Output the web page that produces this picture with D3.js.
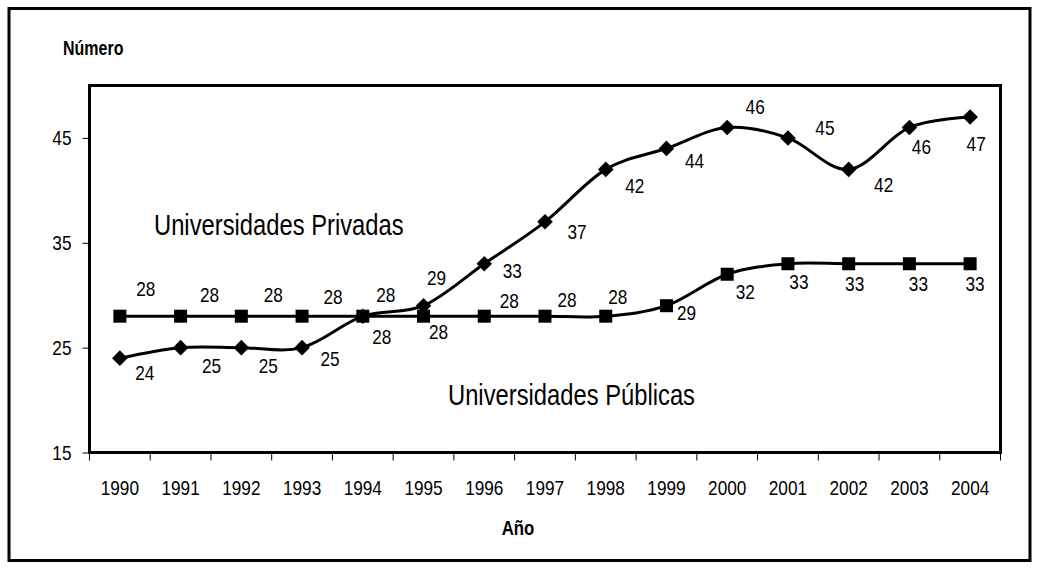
<!DOCTYPE html>
<html>
<head>
<meta charset="utf-8">
<script src="https://cdn.jsdelivr.net/npm/d3@7"></script>
<style>
	body { margin: 0; background: #ffffff; }
	svg text { font-family: "Liberation Sans", Arial, sans-serif; fill: #000; }
</style>
</head>
<body>
<svg id="chart" width="1037" height="568"></svg>
<script>
// data
var years = ["1990", "1991", "1992", "1993", "1994", "1995", "1996", "1997",
	"1998", "1999", "2000", "2001", "2002", "2003", "2004"];
var privadas = [24, 25, 25, 25, 28, 29, 33, 37, 42, 44, 46, 45, 42, 46, 47];
var publicas = [28, 28, 28, 28, 28, 28, 28, 28, 28, 29, 32, 33, 33, 33, 33];
var yTicks = [15, 25, 35, 45];

// label offsets (px) from each marker, as placed in the original
var privOffsets = [[25, 15], [31, 18], [27, 18], [28, 11], [19, 20], [13, -28], [28, 7], [32, 10],
	[29, 16], [28, 12], [28, -21], [37, -10], [35, 15], [12, 19], [6, 27]];
var pubOffsets = [[26, -28], [29, -22], [32, -22], [31, -20], [23, -22], [15, 15], [25, -16], [22, -17],
	[12, -20], [20, 7], [18, 17], [11, 18], [6, 20], [9, 20], [5, 20]];

var svg = d3.select("#chart");

// plot box edges
var pLeft = 89.5, pTop = 85.5, pRight = 1000.5, pBottom = 452.5;
// no narrow font installed, so squeeze glyphs horizontally
var narrow = 0.82;

var xScale = d3.scaleBand()
	.domain(years)
	.range([pLeft, pRight]);

var yScale = d3.scaleLinear()
	.domain([15, 50])
	.range([pBottom, pTop]);

function cx(d, i) { return xScale(years[i]) + xScale.bandwidth() / 2; }

// outer frame
svg.append("rect")
	.attr("x", 9).attr("y", 8.5)
	.attr("width", 1021).attr("height", 552)
	.attr("fill", "none")
	.attr("stroke", "#000")
	.attr("stroke-width", 3);

// plot box
svg.append("rect")
	.attr("x", pLeft).attr("y", pTop)
	.attr("width", pRight - pLeft).attr("height", pBottom - pTop)
	.attr("fill", "none")
	.attr("stroke", "#000")
	.attr("stroke-width", 3);

// y axis
var yAxis = d3.axisLeft(yScale)
	.tickValues(yTicks)
	.tickSize(7)
	.tickPadding(11);

var gy = svg.append("g")
	.attr("transform", "translate(" + pLeft + ",0)")
	.call(yAxis);
gy.select(".domain").remove();
gy.selectAll(".tick line").attr("stroke", "#000").attr("stroke-width", 1);
gy.selectAll(".tick text").attr("font-size", 21).attr("font-family", null);

// x axis - ticks sit between categories like excel
var xAxis = d3.axisBottom(xScale)
	.tickSize(0)
	.tickPadding(28);

var gx = svg.append("g")
	.attr("transform", "translate(0," + pBottom + ")")
	.call(xAxis);
gx.select(".domain").remove();
gx.selectAll(".tick text").attr("font-size", 21).attr("font-family", null);

var bounds = years.map(function(d) { return xScale(d); }).concat([pRight]);
gx.selectAll(".sep").data(bounds).enter().append("line")
	.attr("class", "sep")
	.attr("x1", function(d) { return d; })
	.attr("x2", function(d) { return d; })
	.attr("y1", 0)
	.attr("y2", 8)
	.attr("stroke", "#000")
	.attr("stroke-width", 1);

// smoothed lines
var line = d3.line()
	.x(cx)
	.y(function(d) { return yScale(d); })
	.curve(d3.curveCatmullRom.alpha(0));

svg.append("path")
	.datum(publicas)
	.attr("d", line)
	.attr("fill", "none")
	.attr("stroke", "#000")
	.attr("stroke-width", 3);

svg.append("path")
	.datum(privadas)
	.attr("d", line)
	.attr("fill", "none")
	.attr("stroke", "#000")
	.attr("stroke-width", 3);

// markers
svg.selectAll(".sq").data(publicas).enter().append("rect")
	.attr("class", "sq")
	.attr("x", function(d, i) { return cx(d, i) - 6.5; })
	.attr("y", function(d) { return yScale(d) - 6.5; })
	.attr("width", 13)
	.attr("height", 13)
	.attr("fill", "#000");

svg.selectAll(".dia").data(privadas).enter().append("path")
	.attr("class", "dia")
	.attr("d", d3.symbol().type(d3.symbolDiamond2).size(155))
	.attr("transform", function(d, i) { return "translate(" + cx(d, i) + "," + yScale(d) + ")"; })
	.attr("fill", "#000");

// data labels
svg.selectAll(".lblPub").data(publicas).enter().append("text")
	.attr("class", "lblPub")
	.attr("x", function(d, i) { return cx(d, i) + pubOffsets[i][0]; })
	.attr("y", function(d, i) { return yScale(d) + pubOffsets[i][1]; })
	.attr("dy", "0.35em")
	.attr("text-anchor", "middle")
	.attr("font-size", 21)
	.text(function(d) { return d; });

svg.selectAll(".lblPriv").data(privadas).enter().append("text")
	.attr("class", "lblPriv")
	.attr("x", function(d, i) { return cx(d, i) + privOffsets[i][0]; })
	.attr("y", function(d, i) { return yScale(d) + privOffsets[i][1]; })
	.attr("dy", "0.35em")
	.attr("text-anchor", "middle")
	.attr("font-size", 21)
	.text(function(d) { return d; });

// titles and series names
svg.append("text")
	.attr("x", 63).attr("y", 55)
	.attr("font-size", 19.5)
	.attr("font-weight", "bold")
	.text("Número");

svg.append("text")
	.attr("x", 518).attr("y", 535)
	.attr("text-anchor", "middle")
	.attr("font-size", 20.5)
	.attr("font-weight", "bold")
	.text("Año");

svg.append("text")
	.attr("x", 154).attr("y", 235)
	.attr("font-size", 29)
	.text("Universidades Privadas");

svg.append("text")
	.attr("x", 448).attr("y", 405)
	.attr("font-size", 29)
	.text("Universidades Públicas");

// squeeze every text around its own anchor x
svg.selectAll("text").each(function() {
	var x = +d3.select(this).attr("x") || 0;
	d3.select(this).attr("transform",
		"translate(" + x + ",0) scale(" + narrow + ",1) translate(" + (-x) + ",0)");
});
</script>
</body>
</html>
